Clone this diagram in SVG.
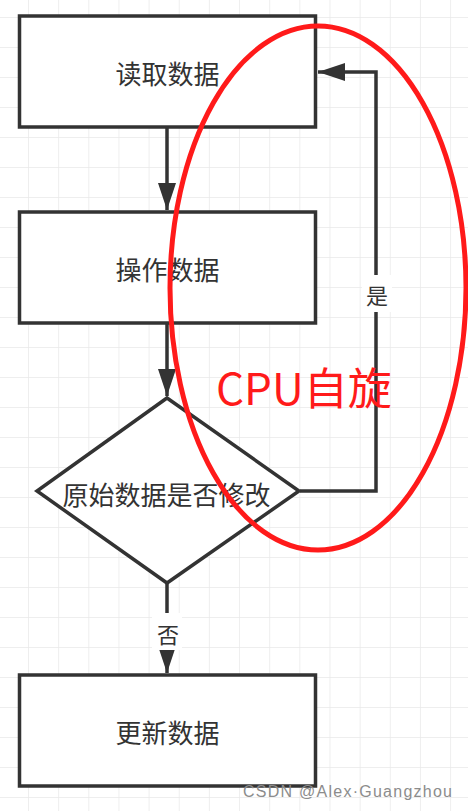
<svg xmlns="http://www.w3.org/2000/svg" width="468" height="811" viewBox="0 0 468 811">
<defs>
<pattern id="grid" x="28" y="17" width="30.15" height="30" patternUnits="userSpaceOnUse">
<path d="M0 0V30M0 0H30.15" fill="none" stroke="#e9e9e9" stroke-width="1.5"/>
</pattern>
<marker id="arr" markerUnits="userSpaceOnUse" markerWidth="30" markerHeight="20" refX="27" refY="9" orient="auto">
<path d="M0 0L27 9L0 18Z" fill="#333"/>
</marker>
</defs>
<style>
.box{fill:#fff;stroke:#333;stroke-width:3.5}
.lbl{font-family:"Noto Sans CJK SC","Noto Sans",sans-serif;font-size:26px;fill:#333;text-anchor:middle;dominant-baseline:central}
.edge{fill:none;stroke:#333;stroke-width:3.5}
.el{font-family:"Noto Sans CJK SC",sans-serif;font-size:22px;fill:#333;text-anchor:middle;dominant-baseline:central}
</style>
<rect width="468" height="811" fill="#fff"/>
<rect width="468" height="811" fill="url(#grid)"/>
<g id="connectors">
<path class="edge" d="M167 127V210" marker-end="url(#arr)"/>
<path class="edge" d="M167 324V396" marker-end="url(#arr)"/>
<path class="edge" d="M167 583V673" marker-end="url(#arr)"/>
<path class="edge" d="M300 491H376V72H318" marker-end="url(#arr)"/>
<rect x="362" y="275" width="30" height="37" fill="#fff"/>
<text class="el" x="377" y="294">是</text>
<rect x="152" y="613" width="30" height="37" fill="#fff"/>
<text class="el" x="168" y="633">否</text>
</g>
<g id="n1"><rect class="box" x="19.5" y="16" width="296" height="111"/><text class="lbl" x="167.5" y="72">读取数据</text></g>
<g id="n2"><rect class="box" x="19.5" y="212" width="296" height="111"/><text class="lbl" x="167.5" y="268">操作数据</text></g>
<g id="n3"><path class="box" d="M167 398L299 491L167 583L37 491Z"/><text class="lbl" x="166.5" y="493">原始数据是否修改</text></g>
<g id="n4"><rect class="box" x="19.5" y="675" width="296" height="111"/><text class="lbl" x="167.5" y="731">更新数据</text></g>
<g id="annotation">
<ellipse cx="318" cy="288" rx="148" ry="262" fill="none" stroke="#ff1a1a" stroke-width="5"/>
<text x="216" y="405" font-family="'Noto Sans CJK SC',sans-serif" font-size="44" fill="#ff1a1a">CPU自旋</text>
</g>
<text x="243" y="797" font-family="'Liberation Sans',sans-serif" font-size="16" fill="#8c8c8c" textLength="209">CSDN @Alex·Guangzhou</text>
</svg>
